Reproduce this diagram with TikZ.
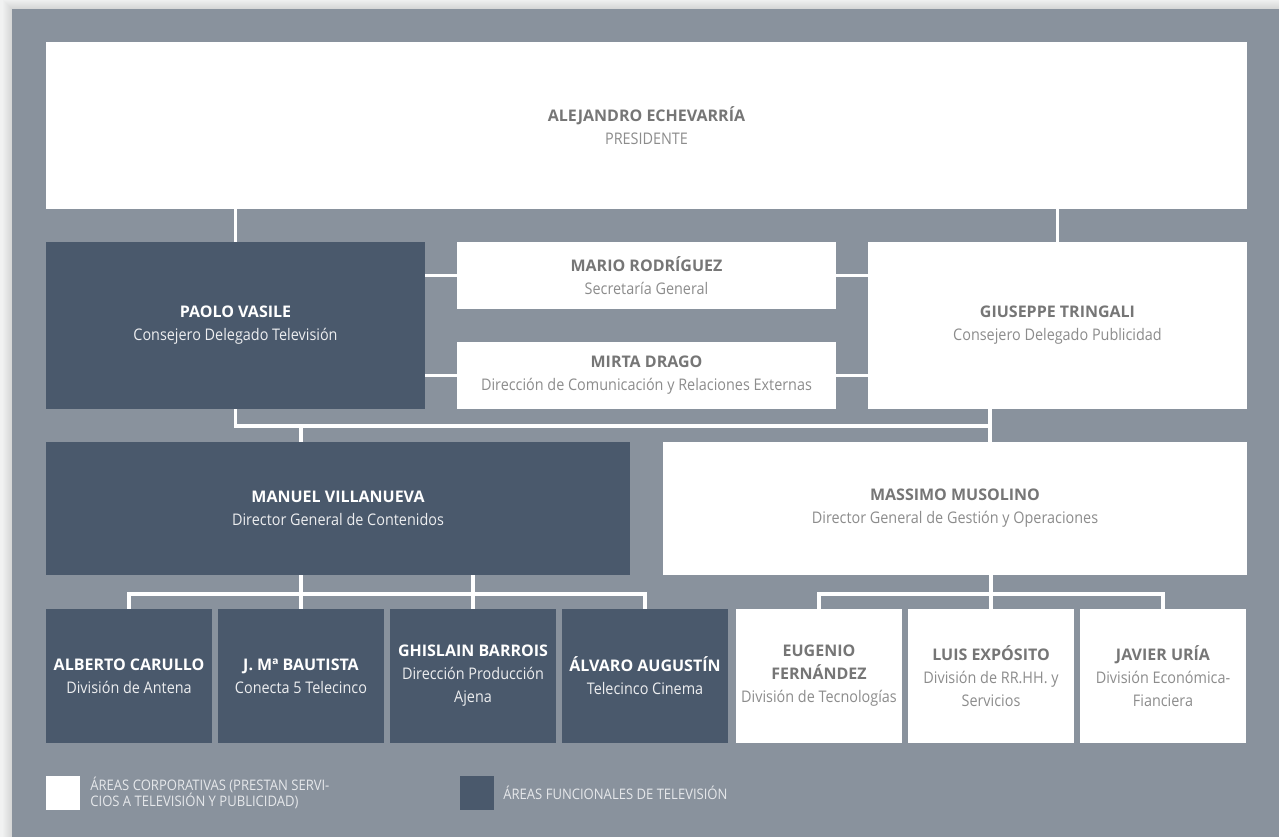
\documentclass[tikz,border=0pt]{standalone}
\usepackage{fontspec}
\setmainfont{Open Sans}
\newfontfamily\rolefont{Open Sans}[FakeStretch=0.9]
\usetikzlibrary{positioning}
\definecolor{paper}{HTML}{F1F2F2}
\definecolor{panel}{HTML}{89929D}
\definecolor{tvblue}{HTML}{4A596C}
\definecolor{ink}{HTML}{767676}
\definecolor{inklight}{HTML}{8C8C8C}
\definecolor{keyink}{HTML}{E6E8EB}
\newcommand{\pers}[2]{\bfseries #1\\\rolefont\mdseries\color{rolec}#2}
\newcommand{\namebreak}{\\\bfseries}
\newcommand{\rolebreak}{\\\rolefont\color{rolec}}

\tikzset{
  box/.style={inner sep=0pt, align=center, font=\fontsize{16}{23}\selectfont},
  corp/.style={box, fill=white, text=ink, execute at begin node={\colorlet{rolec}{inklight}}},
  func/.style={box, fill=tvblue, text=white, execute at begin node={\colorlet{rolec}{white!90!tvblue}}},
  wide/.style={minimum width=379, minimum height=167},
  half/.style={minimum width=379, minimum height=67},
  unit/.style={minimum width=166, minimum height=134},
  link/.style={draw=white, line width=3.5pt},
  keytext/.style={inner sep=0pt, align=left, text=keyink, font=\rolefont\fontsize{14.5}{16.5}\selectfont},
}

\begin{document}
\begin{tikzpicture}[x=1pt,y=-1pt]
    \useasboundingbox (0,0) rectangle (1279,837);
    \fill[paper] (0,0) rectangle (1279,837);
    % soft shadow round the panel
    \foreach \s in {1,...,9}
      \fill[black, opacity=0.012] (12-\s,9-\s) rectangle (1279,837);
    \fill[panel] (12,9) rectangle (1279,837);

    \node[corp, minimum width=1201, minimum height=167] (pres) at (646.5,125.5) {\pers{ALEJANDRO ECHEVARRÍA}{PRESIDENTE}};

    \node[func, wide] (vasile) at (235.5,325.5) {\pers{PAOLO VASILE}{Consejero Delegado Televisión}};
    \node[corp, half] (rodriguez) at (646.5,275.5) {\pers{MARIO RODRÍGUEZ}{Secretaría General}};
    \node[corp, half] (drago) at (646.5,375.5) {\pers{MIRTA DRAGO}{Dirección de Comunicación y Relaciones Externas}};
    \node[corp, wide] (tringali) at (1057.5,325.5) {\pers{GIUSEPPE TRINGALI}{Consejero Delegado Publicidad}};

    \node[func, minimum width=584, minimum height=133] (villanueva) at (338,508.5) {\pers{MANUEL VILLANUEVA}{Director General de Contenidos}};
    \node[corp, minimum width=584, minimum height=133] (musolino) at (955,508.5) {\pers{MASSIMO MUSOLINO}{Director General de Gestión y Operaciones}};

    \node[func, unit] (carullo) at (129,676) {\pers{ALBERTO CARULLO}{División de Antena}};
    \node[func, unit] (bautista) at (301,676) {\pers{J. Mª BAUTISTA}{Conecta 5 Telecinco}};
    \node[func, unit] (barrois) at (473,676) {\pers{GHISLAIN BARROIS}{Dirección Producción\rolebreak Ajena}};
    \node[func, unit] (augustin) at (645,676) {\pers{ÁLVARO AUGUSTÍN}{Telecinco Cinema}};
    \node[corp, unit] (fernandez) at (819,676) {\pers{EUGENIO\namebreak FERNÁNDEZ}{División de Tecnologías}};
    \node[corp, unit] (exposito) at (991,676) {\pers{LUIS EXPÓSITO}{División de RR.HH. y\rolebreak Servicios}};
    \node[corp, unit] (uria) at (1163,676) {\pers{JAVIER URÍA}{División Económica-\rolebreak Fianciera}};

    % joints of the two lower buses
    \coordinate (ctrl) at (990,426);
    \coordinate (tvrow) at (0,594);

    \draw[link] (pres.south -| vasile.north) -- (vasile.north);
    \draw[link] (pres.south -| tringali.north) -- (tringali.north);
    \draw[link] (vasile.east |- rodriguez.west) -- (rodriguez.west);
    \draw[link] (rodriguez.east) -- (rodriguez.east -| tringali.west);
    \draw[link] (vasile.east |- drago.west) -- (drago.west);
    \draw[link] (drago.east) -- (drago.east -| tringali.west);

    \draw[link] (vasile.south) |- (ctrl);
    \draw[link] (tringali.south -| ctrl) -- (musolino.north -| ctrl);
    \draw[link] (ctrl -| bautista) -- (villanueva.north -| bautista);

    \draw[link] (carullo.north) |- (tvrow -| augustin) -- (augustin.north);
    \draw[link] (villanueva.south -| bautista) -- (bautista.north);
    \draw[link] (villanueva.south -| barrois) -- (barrois.north);
    \draw[link] (fernandez.north) |- (tvrow -| uria) -- (uria.north);
    \draw[link] (musolino.south -| exposito) -- (exposito.north);

    % legend
    \node[corp, minimum size=34] (keycorp) at (63,793) {};
    \node[keytext, right=10 of keycorp] (keycorptxt) {ÁREAS CORPORATIVAS (PRESTAN SERVI-\\CIOS A TELEVISIÓN Y PUBLICIDAD)};
    \node[func, minimum size=34] (keyfunc) at (477,793) {};
    \node[keytext, right=9 of keyfunc] (keyfunctxt) {ÁREAS FUNCIONALES DE TELEVISIÓN};
\end{tikzpicture}
\end{document}
